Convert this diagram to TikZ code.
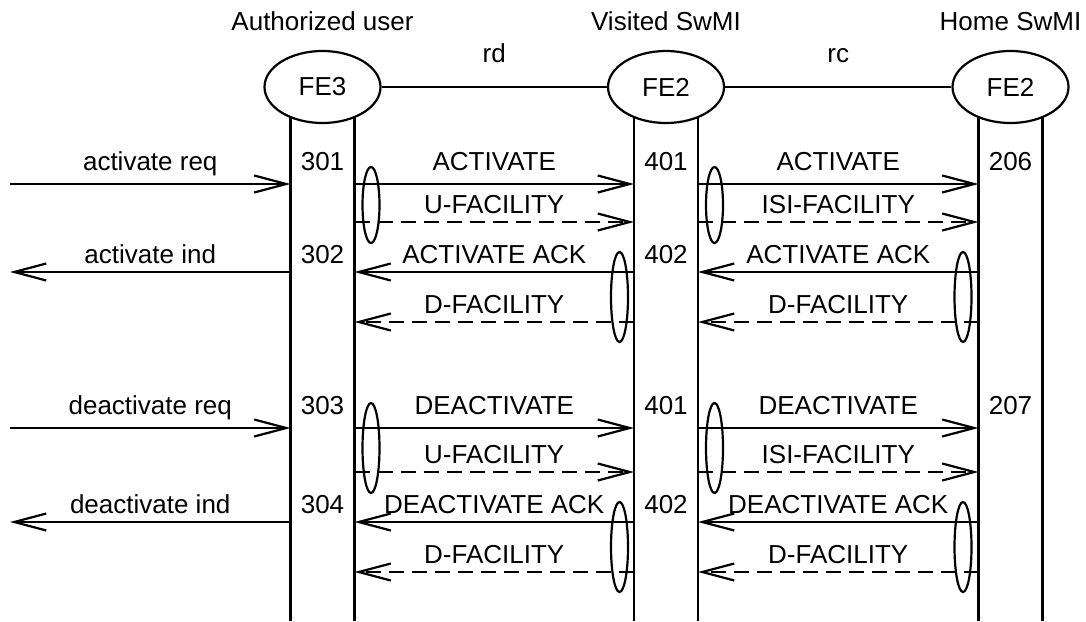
\documentclass[tikz,border=0pt]{standalone}
\usepackage{fontspec}
\setmainfont{Liberation Sans}
\usetikzlibrary{arrows.meta}
\usetikzlibrary{shapes.geometric}
\usetikzlibrary{positioning, calc}

\begin{document}
\begin{tikzpicture}[x=0.5pt, y=-0.5pt, line width=1.1pt,
    font=\fontsize{13pt}{15pt}\selectfont,
    ln/.style={line width=1.1pt},
    fe/.style={draw, ln, ellipse, fill=white, minimum width=58pt, minimum height=36pt, inner sep=0pt},
    lbl/.style={anchor=base, inner sep=0pt},
    up/.style={lbl, yshift=7pt},
    upd/.style={lbl, yshift=4.5pt},
    msg/.style={ln, -{Straight Barb[length=16pt,width=8.5pt]}},
    fac/.style={msg, dash pattern=on 7.5pt off 4pt},
    grp/.style={draw, ln, ellipse, minimum width=8.5pt, minimum height=#1, inner sep=0pt}]
  \useasboundingbox (0,0) rectangle (1086,621);

  % ROWS
  \coordinate (r1) at (0,184);
  \coordinate (r2) at (0,222);
  \coordinate (r3) at (0,272);
  \coordinate (r4) at (0,322);
  \coordinate (r5) at (0,428);
  \coordinate (r6) at (0,472);
  \coordinate (r7) at (0,522);
  \coordinate (r8) at (0,572);
  \coordinate (env) at (10,0);
  \coordinate (bot) at (0,621);

  % LIFELINES
  \coordinate (aL) at (290.5,87);
  \coordinate (aR) at (354.5,87);
  \coordinate (vL) at (634,87);
  \coordinate (vR) at (698,87);
  \coordinate (hL) at (978.5,87);
  \coordinate (hR) at (1042.5,87);
  \foreach \ll in {aL,aR,vL,vR,hL,hR}
    \draw[ln] (\ll) -- (\ll |- bot);

  % ENTITIES
  \node[fe] (fe3) at ($(aL)!0.5!(aR)$) {FE3};
  \node[fe] (fe2v) at ($(vL)!0.5!(vR)$) {FE2};
  \node[fe] (fe2h) at ($(hL)!0.5!(hR)$) {FE2};
  \node[lbl] (user) at (fe3 |- 0,30) {Authorized user};
  \node[lbl] (visited) at (fe2v |- 0,30) {Visited SwMI};
  \node[lbl] (home) at (fe2h |- 0,30) {Home SwMI};

  \draw[ln] (fe3) -- node[lbl, yshift=12.5pt] (rd) {rd} (fe2v);
  \draw[ln] (fe2v) -- node[lbl, yshift=12.5pt] (rc) {rc} (fe2h);

  % ACTIVATE
  \draw[msg] (env |- r1) -- node[up] (actreq) {activate req} (aL |- r1);
  \draw[msg] (aR |- r1) -- node[up] (act1) {ACTIVATE} (vL |- r1);
  \draw[msg] (vR |- r1) -- node[up] (act2) {ACTIVATE} (hL |- r1);
  \node[up] (n301) at (fe3 |- r1) {301};
  \node[up] (n401a) at (fe2v |- r1) {401};
  \node[up] (n206) at (fe2h |- r1) {206};
  \draw[fac] (aR |- r2) -- node[upd] (ufac1) {U-FACILITY} (vL |- r2);
  \draw[fac] (vR |- r2) -- node[upd] (isi1) {ISI-FACILITY} (hL |- r2);
  \node[grp=38pt] (g1) at (371,205) {};
  \node[grp=38pt] (g2) at (714.5,205) {};

  \draw[msg] (aL |- r3) -- node[upd] (actind) {activate ind} (env |- r3);
  \draw[msg] (vL |- r3) -- node[upd] (ack1) {ACTIVATE ACK} (aR |- r3);
  \draw[msg] (hL |- r3) -- node[upd] (ack2) {ACTIVATE ACK} (vR |- r3);
  \node[upd] (n302) at (fe3 |- r3) {302};
  \node[upd] (n402a) at (fe2v |- r3) {402};
  \draw[fac] (vL |- r4) -- node[upd] (dfac1) {D-FACILITY} (aR |- r4);
  \draw[fac] (hL |- r4) -- node[upd] (dfac2) {D-FACILITY} (vR |- r4);
  \node[grp=45pt] (g3) at (619.5,297) {};
  \node[grp=45pt] (g4) at (963,297) {};

  % DEACTIVATE
  \draw[msg] (env |- r5) -- node[up] (deareq) {deactivate req} (aL |- r5);
  \draw[msg] (aR |- r5) -- node[up] (dea1) {DEACTIVATE} (vL |- r5);
  \draw[msg] (vR |- r5) -- node[up] (dea2) {DEACTIVATE} (hL |- r5);
  \node[up] (n303) at (fe3 |- r5) {303};
  \node[up] (n401b) at (fe2v |- r5) {401};
  \node[up] (n207) at (fe2h |- r5) {207};
  \draw[fac] (aR |- r6) -- node[upd] (ufac2) {U-FACILITY} (vL |- r6);
  \draw[fac] (vR |- r6) -- node[upd] (isi2) {ISI-FACILITY} (hL |- r6);
  \node[grp=45pt] (g5) at (371,448) {};
  \node[grp=45pt] (g6) at (714.5,448) {};

  \draw[msg] (aL |- r7) -- node[upd] (deaind) {deactivate ind} (env |- r7);
  \draw[msg] (vL |- r7) -- node[upd] (deaack1) {DEACTIVATE ACK} (aR |- r7);
  \draw[msg] (hL |- r7) -- node[upd] (deaack2) {DEACTIVATE ACK} (vR |- r7);
  \node[upd] (n304) at (fe3 |- r7) {304};
  \node[upd] (n402b) at (fe2v |- r7) {402};
  \draw[fac] (vL |- r8) -- node[upd] (dfac3) {D-FACILITY} (aR |- r8);
  \draw[fac] (hL |- r8) -- node[upd] (dfac4) {D-FACILITY} (vR |- r8);
  \node[grp=45pt] (g7) at (619.5,547) {};
  \node[grp=45pt] (g8) at (963,547) {};
\end{tikzpicture}
\end{document}
